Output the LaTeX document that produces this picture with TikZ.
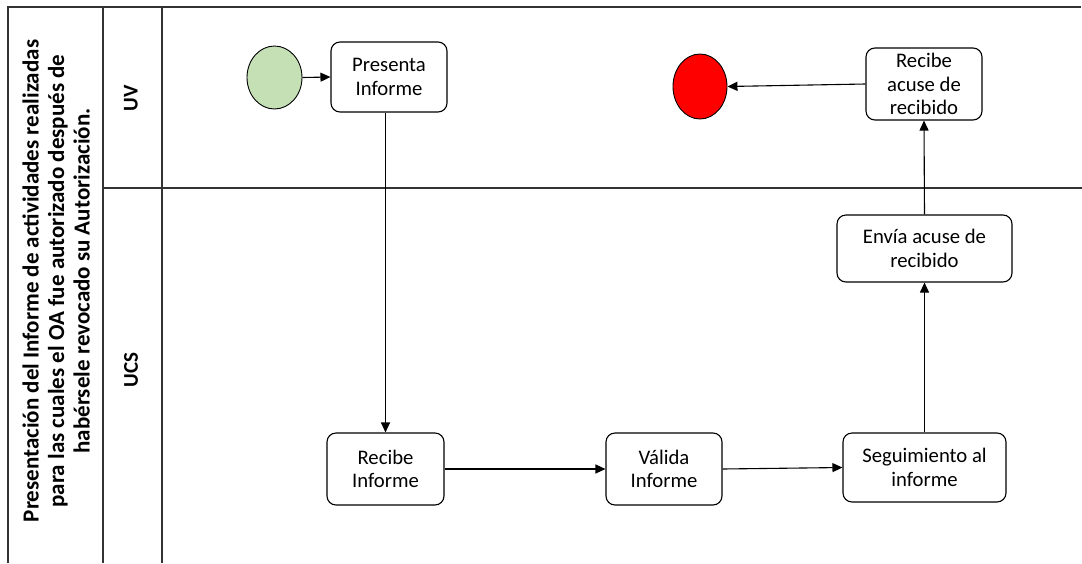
\documentclass[tikz,border=0pt]{standalone}
\usepackage{fontspec}
\setmainfont{Carlito}
\usetikzlibrary{arrows.meta,shapes.geometric}
\definecolor{startgreen}{HTML}{C5E0B4}
\definecolor{endred}{HTML}{FF0000}
\definecolor{laneline}{HTML}{333333}
\tikzset{
  txt/.style={font=\fontsize{20.7}{23.5}\selectfont},
  task/.style={draw=black, line width=1.1pt, rounded corners=9pt, fill=white,
    align=center, inner sep=0pt, txt},
  event/.style={draw=black, line width=0.9pt, ellipse, inner sep=0pt},
  flow/.style={draw=black, line width=1.1pt, -{Triangle[length=10pt,width=9pt]}},
  lane/.style={draw=laneline, line width=1.4pt},
  lanelabel/.style={rotate=90, font=\bfseries\fontsize{21}{24}\selectfont},
}
\begin{document}
\begin{tikzpicture}[x=1pt,y=-1pt]
\useasboundingbox (0,0) rectangle (1082,563);
% lane frame
\draw[lane] (8,563) -- (8,7) -- (1081,7);
\draw[lane] (103,7) -- (103,563);
\draw[lane] (162,7) -- (162,563);
\draw[lane] (103,188) -- (1082,188);
% labels
\node[rotate=90, align=center, font=\bfseries\fontsize{23}{25.5}\selectfont] (title) at (56,281)
  {Presentación del Informe de actividades realizadas\\para las cuales el OA fue autorizado después de\\habérsele revocado su Autorización.};
\node[lanelabel] (uv) at (131,98) {UV};
\node[lanelabel] (ucs) at (131,370) {UCS};
% events
\node[event, fill=startgreen, minimum width=55pt, minimum height=63pt] (start) at (274.5,77.5) {};
\node[event, fill=endred, minimum width=54pt, minimum height=65pt] (fin) at (700,86.5) {};
% tasks
\node[task, minimum width=116pt, minimum height=70pt] (presenta) at (389,77) {Presenta\\Informe};
\node[task, minimum width=116pt, minimum height=72pt] (acuse) at (924,84) {Recibe\\acuse de\\recibido};
\node[task, minimum width=175pt, minimum height=67pt] (envia) at (924.5,248.5) {Envía acuse de\\recibido};
\node[task, minimum width=163pt, minimum height=69pt] (seguimiento) at (924.5,467.5) {Seguimiento al\\informe};
\node[task, minimum width=117pt, minimum height=72pt] (recibe) at (385.5,469) {Recibe\\Informe};
\node[task, minimum width=116pt, minimum height=72pt] (valida) at (664,469) {Válida\\Informe};
% connectors
\draw[flow] (start.east) -- (presenta.west);
\draw[flow] (presenta.south -| recibe.north) -- (recibe.north);
\draw[flow] (recibe.east) -- (valida.west);
\draw[flow] (valida.east) -- (seguimiento.west);
\draw[flow] (seguimiento.north) -- (envia.south);
\draw[flow] (envia.north) -- (acuse.south);
\draw[flow] (acuse.west) -- (fin.east);
\end{tikzpicture}
\end{document}
